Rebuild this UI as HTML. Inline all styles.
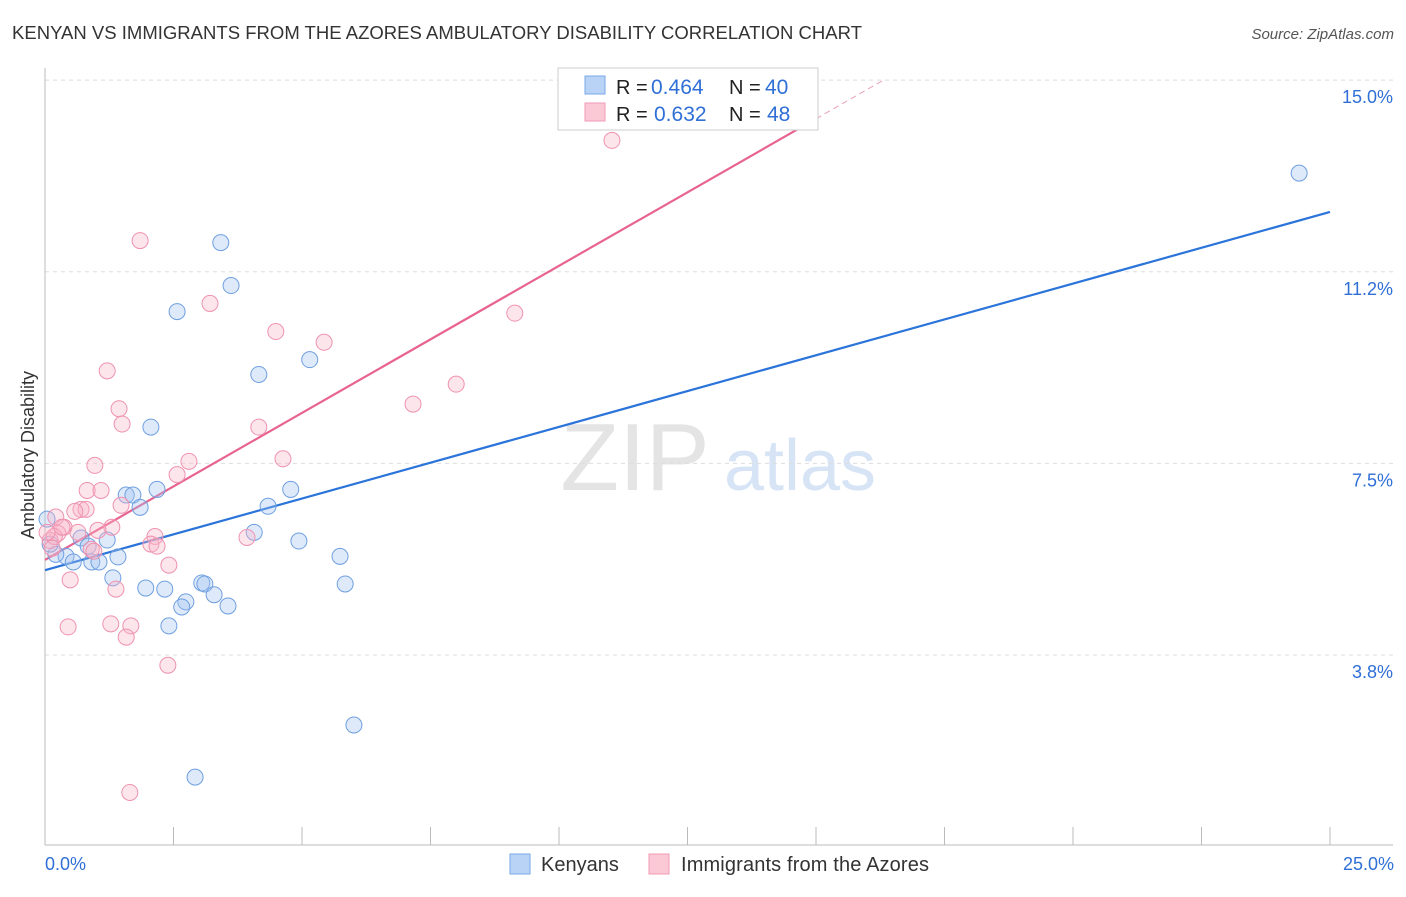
<!DOCTYPE html>
<html><head><meta charset="utf-8"><style>
body{margin:0;background:#fff;font-family:"Liberation Sans",sans-serif;}
svg text{font-family:"Liberation Sans",sans-serif;}
</style></head><body>
<svg id="c" width="1406" height="892" xmlns="http://www.w3.org/2000/svg">
<text x="12" y="39" font-size="18.5" fill="#333" textLength="850">KENYAN VS IMMIGRANTS FROM THE AZORES AMBULATORY DISABILITY CORRELATION CHART</text>
<text x="1394" y="39" font-size="15" fill="#555" font-style="italic" text-anchor="end">Source: ZipAtlas.com</text>
<text x="635" y="490" font-size="96" fill="#e4e4e4" font-family="Liberation Serif" text-anchor="middle">ZIP</text>
<text x="800" y="490" font-size="72" fill="#d6e4f5" text-anchor="middle">atlas</text>
<g id="grid"></g><g id="axes"></g><g id="lines"></g><g id="pts"></g>
<g>
<rect x="558" y="68" width="260" height="62" fill="#fff" stroke="#ccc"/>
<rect x="585" y="76" width="20" height="18" fill="#b8d3f5" stroke="#7aa7e6"/>
<rect x="585" y="103" width="20" height="18" fill="#fbc8d6" stroke="#f09ab4"/>
<text x="616" y="94" font-size="20" fill="#222">R =</text>
<text x="651" y="94" font-size="21" fill="#2f6fd6">0.464</text>
<text x="729" y="94" font-size="20" fill="#222">N =</text>
<text x="765" y="94" font-size="21" fill="#2f6fd6">40</text>
<text x="616" y="121" font-size="20" fill="#222">R =</text>
<text x="654" y="121" font-size="21" fill="#2f6fd6">0.632</text>
<text x="729" y="121" font-size="20" fill="#222">N =</text>
<text x="767" y="121" font-size="21" fill="#2f6fd6">48</text>
</g>
<text x="34" y="455" font-size="18" fill="#333" transform="rotate(-90 34 455)" text-anchor="middle">Ambulatory Disability</text>
<text x="45" y="870" font-size="18" fill="#2f6fd6">0.0%</text>
<text x="1394" y="870" font-size="18" fill="#2f6fd6" text-anchor="end">25.0%</text>
<g>
<rect x="510" y="854" width="20" height="20" fill="#b8d3f5" stroke="#7aa7e6"/>
<text x="541" y="871" font-size="20" fill="#333">Kenyans</text>
<rect x="649" y="854" width="20" height="20" fill="#fbc8d6" stroke="#f09ab4"/>
<text x="681" y="871" font-size="20" fill="#333" textLength="248">Immigrants from the Azores</text>
</g>
</svg>
<script>
const yTicks=[3.75,7.5,11.25,15];
const yTickLabels=["3.8%","7.5%","11.2%","15.0%"];
const xTicks=[0,2.5,5,7.5,10,12.5,15,17.5,20,22.5,25];
const kenX=[24.4,3.42,3.62,2.57,5.15,4.16,2.06,1.58,1.71,2.18,1.85,4.78,4.34,4.07,4.94,5.74,5.84,1.21,1.42,0.7,0.84,0.41,0.55,0.91,1.05,0.21,0.1,0.04,1.32,1.96,2.33,3.05,3.11,3.29,3.56,2.74,2.66,2.41,6.01,2.92];
const kenY=[13.18,11.82,10.98,10.47,9.53,9.24,8.21,6.88,6.88,6.99,6.64,6.99,6.66,6.15,5.98,5.68,5.14,6.0,5.67,6.04,5.88,5.68,5.57,5.57,5.57,5.72,5.92,6.41,5.26,5.06,5.04,5.16,5.14,4.93,4.71,4.79,4.69,4.32,2.38,1.36];
const azX=[11.03,1.85,3.21,4.49,5.43,9.14,1.21,8.0,7.16,1.44,1.5,4.16,4.63,0.97,2.8,2.57,0.82,1.09,0.7,0.8,1.48,0.58,1.3,1.03,0.37,0.25,0.21,0.1,0.18,0.33,0.14,0.9,2.14,2.06,2.18,3.93,2.41,0.49,1.38,0.45,1.28,1.67,1.58,2.39,1.65,0.04,0.64,0.95];
const azY=[13.82,11.86,10.63,10.08,9.87,10.44,9.31,9.05,8.66,8.57,8.27,8.21,7.59,7.46,7.54,7.28,6.97,6.97,6.6,6.6,6.68,6.56,6.25,6.19,6.25,6.13,6.45,5.99,6.07,6.25,5.84,5.82,6.07,5.92,5.88,6.05,5.51,5.22,5.04,4.3,4.36,4.32,4.1,3.55,1.06,6.15,6.15,5.78];
const kenTrend=[5.41,12.42];
const azTrend=[5.61,20.0];
const NS="http://www.w3.org/2000/svg";
const X=v=>45+v*51.4, Y=v=>655-(v-3.75)*51.1;
function mk(t,a,p){const e=document.createElementNS(NS,t);for(const k in a)e.setAttribute(k,a[k]);document.getElementById(p).appendChild(e);return e;}
yTicks.forEach((t,i)=>{
 const g=mk('line',{x1:45,x2:1393,y1:Y(t),y2:Y(t),stroke:'#ddd','stroke-dasharray':'4,4'},'grid');
 
 
 const l=mk('text',{x:1393,y:Y(t)+23,'font-size':18,fill:'#2f6fd6','text-anchor':'end'},'axes');
 l.textContent=yTickLabels[i];
 
 
});
const ax=mk('line',{x1:45,x2:1393,y1:845,y2:845,stroke:'#bbb'},'axes');


const ay=mk('line',{x1:45,x2:45,y1:68,y2:845,stroke:'#bbb'},'axes');


xTicks.forEach(t=>{const e=mk('line',{x1:X(t),x2:X(t),y1:827,y2:845,stroke:'#bbb'},'axes');
 
 });
const lb=mk('line',{x1:X(0),y1:Y(kenTrend[0]),x2:X(25),y2:Y(kenTrend[1]),stroke:'#2b74d9','stroke-width':2.2},'lines');


const az=v=>azTrend[0]+(azTrend[1]-azTrend[0])*v/25;
const xs=(15-azTrend[0])/(azTrend[1]-azTrend[0])*25;
const lp=mk('line',{x1:X(0),y1:Y(az(0)),x2:X(15),y2:Y(az(15)),stroke:'#e8638f','stroke-width':2.2},'lines');


const ld=mk('line',{x1:X(15),y1:Y(az(15)),x2:X(xs),y2:Y(15),stroke:'#e8a0b8','stroke-width':1,'stroke-dasharray':'6,4'},'lines');


kenX.forEach((v,i)=>{const c=mk('circle',{cx:X(v),cy:Y(kenY[i]),r:8,fill:'rgba(160,196,240,0.35)',stroke:'#6f9fe0','stroke-width':1},'pts');
 
 });
azX.forEach((v,i)=>{const c=mk('circle',{cx:X(v),cy:Y(azY[i]),r:8,fill:'rgba(248,180,200,0.35)',stroke:'#ee92b0','stroke-width':1},'pts');
 
 });
</script>
</body></html>
